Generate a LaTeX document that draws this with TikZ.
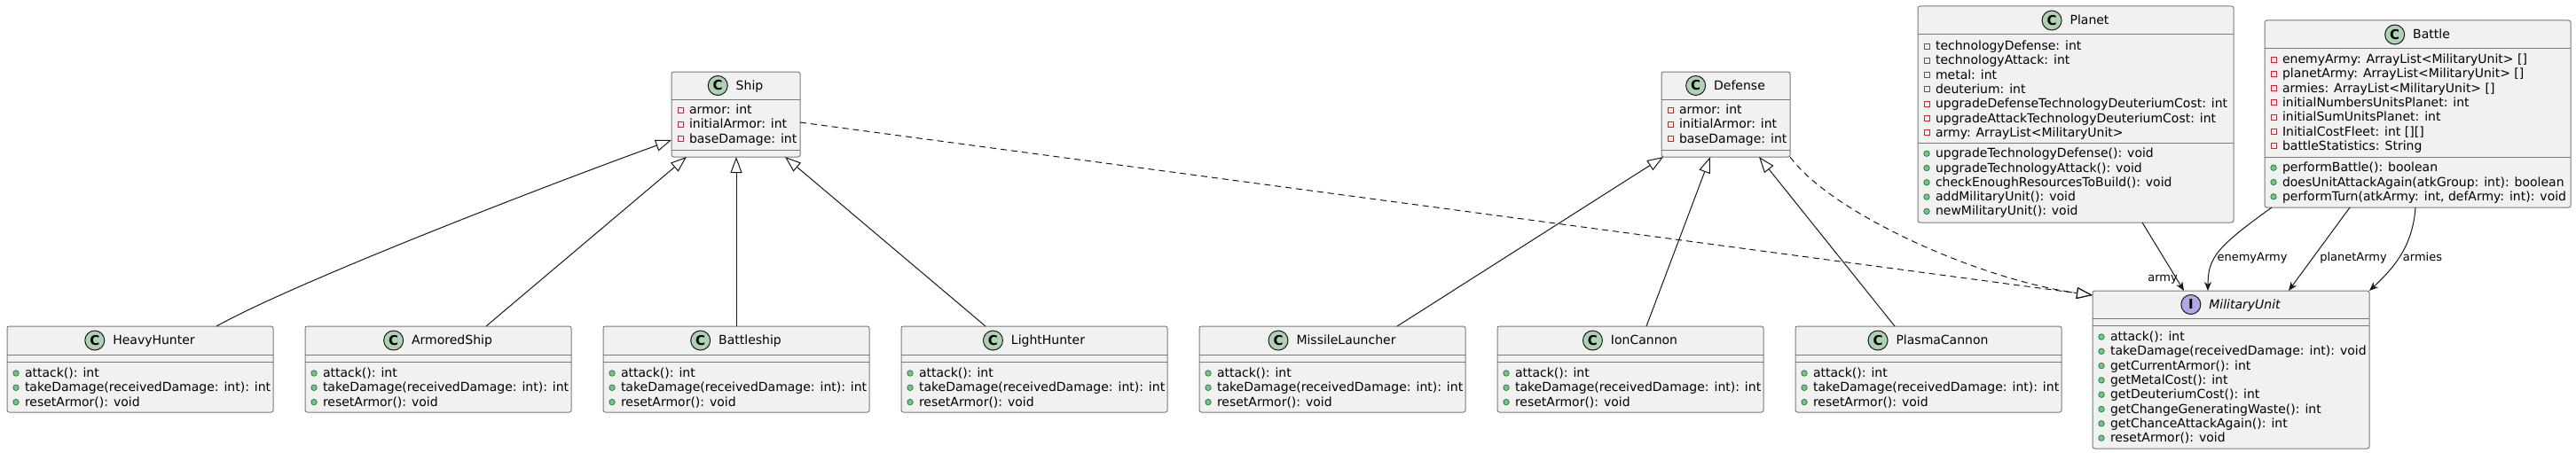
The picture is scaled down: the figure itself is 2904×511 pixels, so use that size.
\documentclass[tikz,border=0pt]{standalone}
\usepackage{fontspec}
\setmainfont{DejaVu Sans}
\usetikzlibrary{arrows.meta,calc}
\definecolor{boxfill}{HTML}{F1F1F1}
\definecolor{boxline}{HTML}{7A7A7A}
\definecolor{edgecol}{HTML}{181818}
\definecolor{privred}{HTML}{C82930}
\definecolor{pubfill}{HTML}{84BE84}
\definecolor{publine}{HTML}{038048}
\definecolor{cgreen}{HTML}{ADD1B2}
\definecolor{ipurple}{HTML}{B4A7E5}
\tikzset{
 umlbox/.style={draw=boxline, fill=boxfill, line width=1pt, rounded corners=2.5pt, inner sep=0pt, outer sep=0pt, anchor=north west},
 sepline/.style={draw=boxline, line width=1pt},
 member/.style={anchor=west, inner sep=0pt, outer sep=0pt, font=\fontsize{14}{16}\selectfont, text height=10pt, text depth=1pt},
 cname/.style={inner sep=0pt, outer sep=0pt, font=\fontsize{14}{16}\selectfont, text height=10pt, text depth=1pt},
 privicon/.style={rectangle, draw=privred, line width=0.9pt, minimum size=6pt, inner sep=0pt},
 pubicon/.style={circle, fill=pubfill, draw=publine, line width=0.7pt, minimum size=6.5pt, inner sep=0pt},
 classicon/.style={circle, fill=cgreen, draw=edgecol, line width=1pt, minimum size=22pt, inner sep=0pt, font=\fontsize{15}{15}\selectfont\bfseries},
 ifaceicon/.style={classicon, fill=ipurple},
 genedge/.style={draw=edgecol, line width=1pt, -{Triangle[open, length=18pt, width=13pt]}},
 realedge/.style={genedge, dash pattern=on 7pt off 5pt},
 assocedge/.style={draw=edgecol, line width=1pt, -{Stealth[length=10pt, width=8pt, inset=3pt]}},
 elabel/.style={inner sep=0pt, outer sep=0pt, font=\fontsize{13}{15}\selectfont, text height=9.5pt, text depth=1pt},
}
\newcommand\mpriv[3]{\node[member] (#1) at (#2) {#3}; \node[privicon] (#1i) at ($(#1.west)+(-10,0)$) {};}
\newcommand\mpub[3]{\node[member] (#1) at (#2) {#3}; \node[pubicon] (#1i) at ($(#1.west)+(-10,0)$) {};}
\newcommand\chead[5]{\node[cname] (#1) at (#2) {#3}; \node[#4] (#1c) at ($(#1.west)+(-20.5,0)$) {#5};}

\begin{document}
\begin{tikzpicture}[x=1pt,y=-1pt]
\useasboundingbox (0,0) rectangle (2904,511);
\fill[white] (0,0) rectangle (2904,511);

% ---------- Ship ----------
\node[umlbox, minimum width=145pt, minimum height=96pt] (ship) at (757,81) {};
\draw[sepline] ($(ship.north west)+(0,31)$) -- ($(ship.north east)+(0,31)$);
\draw[sepline] ($(ship.north west)+(0,88)$) -- ($(ship.north east)+(0,88)$);
\chead{ship-t}{845,96.5}{Ship}{classicon}{C}
\mpriv{ship-a1}{777,124}{armor: int}
\mpriv{ship-a2}{777,140.3}{initialArmor: int}
\mpriv{ship-a3}{777,156.6}{baseDamage: int}

% ---------- Defense ----------
\node[umlbox, minimum width=145pt, minimum height=96pt] (defense) at (1873,81) {};
\draw[sepline] ($(defense.north west)+(0,31)$) -- ($(defense.north east)+(0,31)$);
\draw[sepline] ($(defense.north west)+(0,88)$) -- ($(defense.north east)+(0,88)$);
\chead{def-t}{1961,96.5}{Defense}{classicon}{C}
\mpriv{def-a1}{1893,124}{armor: int}
\mpriv{def-a2}{1893,140.3}{initialArmor: int}
\mpriv{def-a3}{1893,156.6}{baseDamage: int}

% ---------- Planet ----------
\node[umlbox, minimum width=356pt, minimum height=244pt] (planet) at (2162,7) {};
\draw[sepline] ($(planet.north west)+(0,32)$) -- ($(planet.north east)+(0,32)$);
\draw[sepline] ($(planet.north west)+(0,154)$) -- ($(planet.north east)+(0,154)$);
\chead{pl-t}{2355.5,23}{Planet}{classicon}{C}
\mpriv{pl-a1}{2182,52}{technologyDefense: int}
\mpriv{pl-a2}{2182,68.3}{technologyAttack: int}
\mpriv{pl-a3}{2182,84.6}{metal: int}
\mpriv{pl-a4}{2182,100.9}{deuterium: int}
\mpriv{pl-a5}{2182,117.2}{upgradeDefenseTechnologyDeuteriumCost: int}
\mpriv{pl-a6}{2182,133.5}{upgradeAttackTechnologyDeuteriumCost: int}
\mpriv{pl-a7}{2182,149.8}{army: ArrayList<MilitaryUnit>}
\mpub{pl-m1}{2182,173.2}{upgradeTechnologyDefense(): void}
\mpub{pl-m2}{2182,189.5}{upgradeTechnologyAttack(): void}
\mpub{pl-m3}{2182,205.8}{checkEnoughResourcesToBuild(): void}
\mpub{pl-m4}{2182,222.1}{addMilitaryUnit(): void}
\mpub{pl-m5}{2182,238.4}{newMilitaryUnit(): void}

% ---------- Battle ----------
\node[umlbox, minimum width=345pt, minimum height=211pt] (battle) at (2553,23) {};
\draw[sepline] ($(battle.north west)+(0,32)$) -- ($(battle.north east)+(0,32)$);
\draw[sepline] ($(battle.north west)+(0,154)$) -- ($(battle.north east)+(0,154)$);
\chead{bt-t}{2741,39}{Battle}{classicon}{C}
\mpriv{bt-a1}{2573,67}{enemyArmy: ArrayList<MilitaryUnit> []}
\mpriv{bt-a2}{2573,83.3}{planetArmy: ArrayList<MilitaryUnit> []}
\mpriv{bt-a3}{2573,99.6}{armies: ArrayList<MilitaryUnit> []}
\mpriv{bt-a4}{2573,115.9}{initialNumbersUnitsPlanet: int}
\mpriv{bt-a5}{2573,132.2}{initialSumUnitsPlanet: int}
\mpriv{bt-a6}{2573,148.5}{InitialCostFleet: int [][]}
\mpriv{bt-a7}{2573,164.8}{battleStatistics: String}
\mpub{bt-m1}{2573,189.2}{performBattle(): boolean}
\mpub{bt-m2}{2573,205.5}{doesUnitAttackAgain(atkGroup: int): boolean}
\mpub{bt-m3}{2573,221.8}{performTurn(atkArmy: int, defArmy: int): void}

% ---------- MilitaryUnit ----------
\node[umlbox, minimum width=312pt, minimum height=178pt] (mu) at (2359,328) {};
\draw[sepline] ($(mu.north west)+(0,31)$) -- ($(mu.north east)+(0,31)$);
\draw[sepline] ($(mu.north west)+(0,39)$) -- ($(mu.north east)+(0,39)$);
\chead{mu-t}{2530.5,343.5}{\itshape MilitaryUnit}{ifaceicon}{I}
\mpub{mu-m1}{2379,380}{attack(): int}
\mpub{mu-m2}{2379,396.3}{takeDamage(receivedDamage: int): void}
\mpub{mu-m3}{2379,412.6}{getCurrentArmor(): int}
\mpub{mu-m4}{2379,428.9}{getMetalCost(): int}
\mpub{mu-m5}{2379,445.2}{getDeuteriumCost(): int}
\mpub{mu-m6}{2379,461.5}{getChangeGeneratingWaste(): int}
\mpub{mu-m7}{2379,477.8}{getChanceAttackAgain(): int}
\mpub{mu-m8}{2379,494.1}{resetArmor(): void}

% ---------- bottom row ----------
\foreach \nm/\lbl/\x in {hh/HeavyHunter/8, as/ArmoredShip/344, bs/Battleship/680, lh/LightHunter/1016, ml/MissileLauncher/1352, ic/IonCannon/1688, pc/PlasmaCannon/2024}{
 \node[umlbox, minimum width=300pt, minimum height=97pt] (\nm) at (\x,368) {};
 \draw[sepline] ($(\nm.north west)+(0,32)$) -- ($(\nm.north east)+(0,32)$);
 \draw[sepline] ($(\nm.north west)+(0,40)$) -- ($(\nm.north east)+(0,40)$);
 \chead{\nm-t}{\x+165.5,384}{\lbl}{classicon}{C}
 \mpub{\nm-a}{\x+20,421}{attack(): int}
 \mpub{\nm-b}{\x+20,437.3}{takeDamage(receivedDamage: int): int}
 \mpub{\nm-c}{\x+20,453.6}{resetArmor(): void}
}

% ---------- generalisations ----------
\draw[genedge] ($(hh.north west)+(236,0)$) .. controls ($(hh.north west)+(322,-48)$) and ($(ship.north west)+(-157,134)$) .. ($(ship.north west)+(0,77)$);
\draw[genedge] ($(as.north west)+(204,0)$) -- ($(ship.south west)+(17,0)$);
\draw[genedge] (bs.north) -- (bs.north |- ship.south);
\draw[genedge] ($(lh.north west)+(95,0)$) -- ($(ship.south west)+(128,0)$);
\draw[genedge] ($(ml.north west)+(223,0)$) -- ($(defense.south west)+(2,0)$);
\draw[genedge] ($(ic.north west)+(168,0)$) -- ($(defense.south west)+(55,0)$);
\draw[genedge] ($(pc.north west)+(112,0)$) -- ($(defense.south west)+(110,0)$);

% ---------- realisations ----------
\draw[realedge] ($(ship.north east)+(0,57)$) -- ($(mu.north west)+(0,5)$);
\draw[realedge] (defense.south east) .. controls ($(defense.south east)+(46,63)$) and ($(mu.north west)+(-129,-13)$) .. ($(mu.north west)+(0,5)$);

% ---------- associations ----------
\draw[assocedge] ($(planet.south west)+(253,0)$) -- ($(mu.north west)+(103,0)$);
\node[elabel] (lab-army) at ($(mu.north west)+(79,-15)$) {army};

\draw[assocedge] ($(battle.south west)+(8,0)$) .. controls ($(battle.south west)+(-53,44)$) and ($(mu.north west)+(130,-38)$) .. ($(mu.north west)+(130,0)$);
\node[elabel] (lab-enemy) at (2539,290) {enemyArmy};

\draw[assocedge] ($(battle.south west)+(96,0)$) -- ($(mu.north west)+(221,0)$);
\node[elabel] (lab-planet) at (2653,290) {planetArmy};

\draw[assocedge] ($(battle.south west)+(170,0)$) .. controls ($(battle.south west)+(167,42)$) and ($(mu.north east)+(30,-28)$) .. (mu.north east);
\node[elabel] (lab-armies) at (2731,290) {armies};
\end{tikzpicture}
\end{document}
